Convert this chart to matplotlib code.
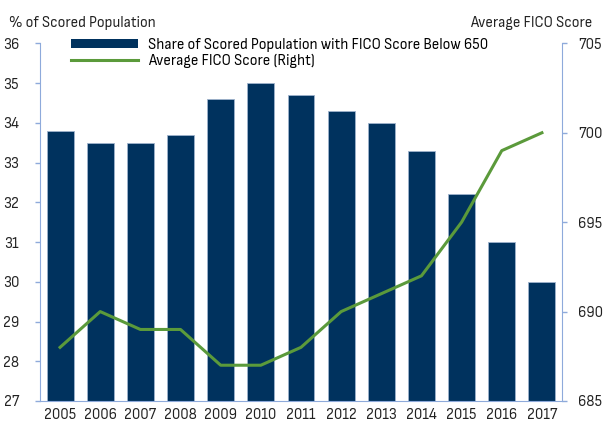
import matplotlib.pyplot as plt
import numpy as np
from matplotlib import font_manager
from matplotlib.patches import Patch
from matplotlib.lines import Line2D

# pick a narrow font if one is installed
installed = {f.name for f in font_manager.fontManager.ttflist}
narrow = [n for n in installed if "Narrow" in n or "Condensed" in n]
family = narrow[0] if narrow else "Roboto"
plt.rcParams['font.family'] = [family, 'DejaVu Sans']

years = ["2005", "2006", "2007", "2008", "2009", "2010", "2011",
         "2012", "2013", "2014", "2015", "2016", "2017"]
share_below_650 = [33.8, 33.5, 33.5, 33.7, 34.6, 35.0, 34.7, 34.3, 34.0, 33.3, 32.2, 31.0, 30.0]
avg_fico = [688, 690, 689, 689, 687, 687, 688, 690, 691, 692, 695, 699, 700]

navy = "#00325e"
green = "#5b9a3b"
spine_col = "#8eaadb"
txt = "#222222"
fs = 11

fig = plt.figure(figsize=(6.03, 4.25), dpi=100)
ax = fig.add_axes([0.0663, 0.0565, 0.8657, 0.8415])
x = np.arange(len(years))
ax.bar(x, np.array(share_below_650) - 27, bottom=27, width=0.67, color=navy,
       edgecolor="#9fb3cc", linewidth=0.6)
ax.set_xlim(-0.5, len(years) - 0.5)
ax.set_ylim(27, 36)
ax.set_yticks(range(27, 37))
ax.set_xticks(x)
ax.set_xticklabels(years)

ax2 = ax.twinx()
ax2.plot(x, avg_fico, color=green, linewidth=2.2)
ax2.set_ylim(685, 705)
ax2.set_yticks(range(685, 706, 5))

for a in (ax, ax2):
    for s in a.spines.values():
        s.set_visible(False)
    a.tick_params(colors=spine_col, labelcolor=txt, labelsize=fs, length=3.6, width=1)
ax.spines['left'].set_visible(True)
ax.spines['left'].set_color(spine_col)
ax.spines['bottom'].set_visible(True)
ax.spines['bottom'].set_color(spine_col)
ax2.spines['right'].set_visible(True)
ax2.spines['right'].set_color(spine_col)
ax.tick_params(axis='x', length=0, pad=5)
ax.tick_params(axis='y', pad=11.5)
ax2.tick_params(axis='y', pad=8)

fig.text(0.015, 0.945, "% of Scored Population", fontsize=fs, color=txt, va="center")
fig.text(0.983, 0.945, "Average FICO Score", fontsize=fs, color=txt, va="center", ha="right")

handles = [Patch(facecolor=navy, edgecolor="none"), Line2D([0], [0], color=green, linewidth=2.2)]
labels = ["Share of Scored Population with FICO Score Below 650", "Average FICO Score (Right)"]
ax.legend(handles, labels, loc="upper left", bbox_to_anchor=(0.048, 1.032), frameon=False,
          fontsize=fs, handlelength=4.4, handleheight=0.5, labelspacing=0.1, handletextpad=0.65,
          borderaxespad=0)

fig.savefig("out.png", dpi=100)
